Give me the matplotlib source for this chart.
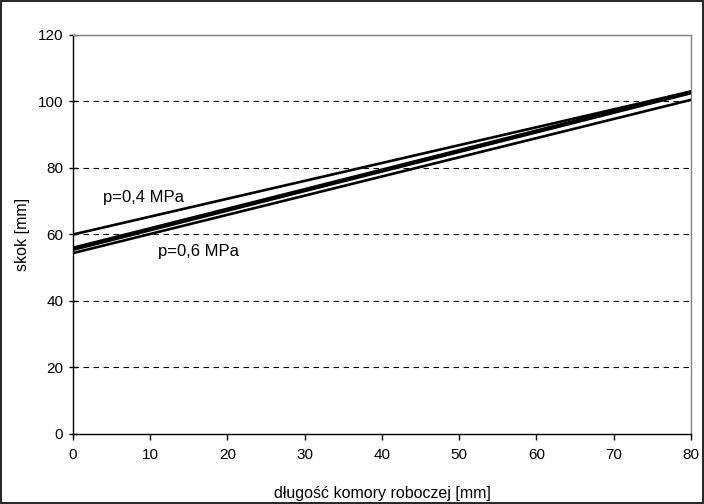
import matplotlib
matplotlib.use("Agg")
from matplotlib import pyplot as plt

plt.rcParams['font.family'] = ['Liberation Sans', 'DejaVu Sans']

# dlugosc komory roboczej [mm]
x = [0, 80]
# skok [mm] for the four curves
skok_04 = [60.0, 103.0]
skok_b = [56.0, 103.0]
skok_c = [55.4, 102.5]
skok_06 = [54.4, 100.5]

yticks = [0, 20, 40, 60, 80, 100, 120]
xticks = [0, 10, 20, 30, 40, 50, 60, 70, 80]

fig = plt.figure(figsize=(7.04, 5.04), dpi=100)
fig.patches.append(plt.Rectangle((0.001, 0.001), 0.997, 0.997, transform=fig.transFigure,
                                 fill=False, edgecolor='black', linewidth=1.2))
ax = fig.add_axes([0.1037, 0.1389, 0.8778, 0.7917])

for yy in yticks[1:-1]:
    ax.axhline(yy, color='black', linestyle=(0, (5, 4)), linewidth=0.8, zorder=1)

for s in [skok_04, skok_b, skok_c, skok_06]:
    ax.plot(x, s, color='black', linewidth=1.9, zorder=3)

ax.text(3.9, 71, 'p=0,4 MPa', fontsize=12, va='center', ha='left')
ax.text(11.0, 54.8, 'p=0,6 MPa', fontsize=12, va='center', ha='left')

ax.set_xlim(0, 80)
ax.set_ylim(0, 120)
ax.set_xticks(xticks)
ax.set_yticks(yticks)
ax.tick_params(axis='y', direction='inout', length=6, width=1, labelsize=11, pad=4)
ax.tick_params(axis='x', direction='out', length=4, width=1, labelsize=11, pad=6)
ax.spines['left'].set_color('black')
ax.spines['bottom'].set_color('black')
ax.spines['top'].set_color('#808080')
ax.spines['right'].set_color('#808080')
for sp in ax.spines.values():
    sp.set_linewidth(1)

ax.set_ylabel('skok [mm]', fontsize=11.5, va='center')
ax.yaxis.set_label_coords(-0.081, 0.5)
ax.set_xlabel('długość komory roboczej [mm]', fontsize=11.5, va='center')
ax.xaxis.set_label_coords(0.5, -0.148)

fig.savefig('out.png', dpi=100)
